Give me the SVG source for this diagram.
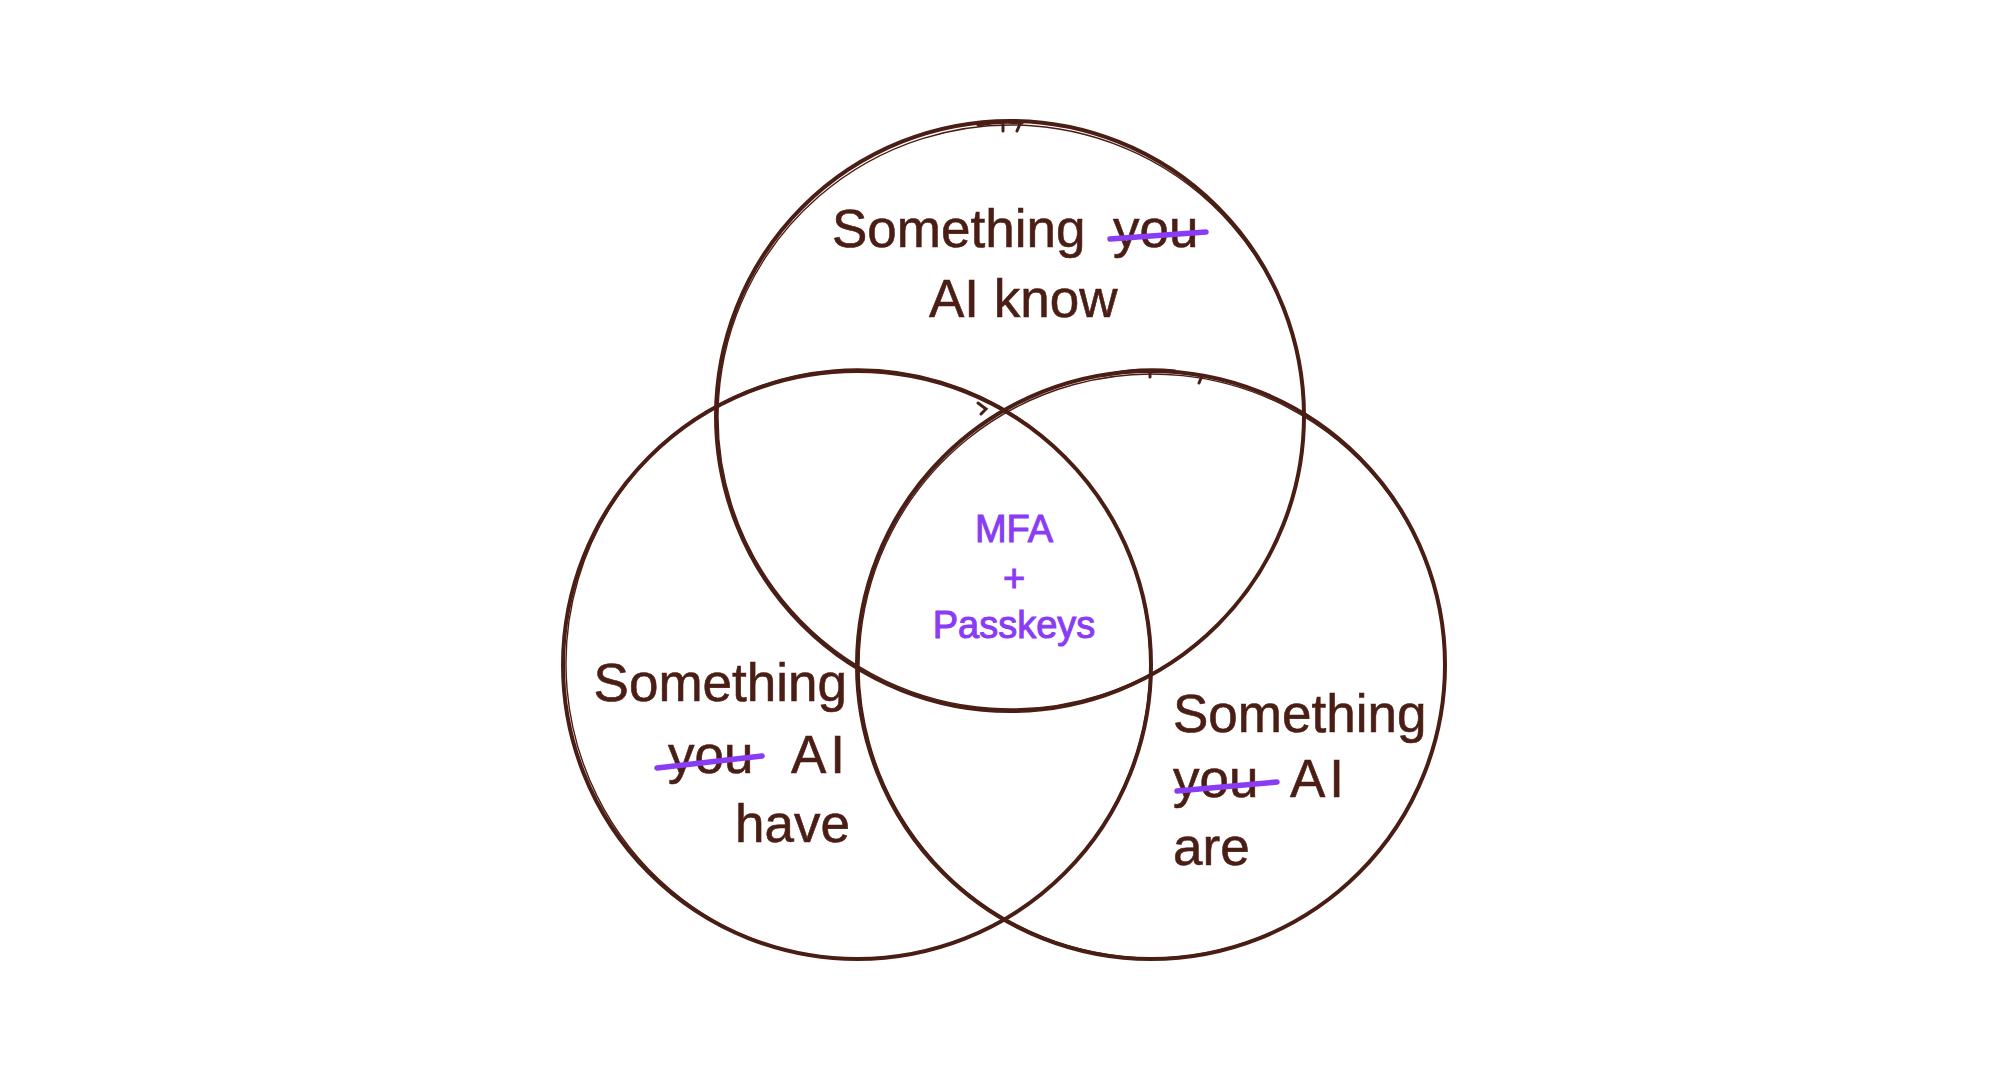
<svg xmlns="http://www.w3.org/2000/svg" width="2008" height="1081" viewBox="0 0 2008 1081">
  <style>
    .ring { fill: none; stroke: #4a1e14; stroke-width: 4; stroke-linecap: round; }
    .ring2 { fill: none; stroke: #4a1e14; stroke-width: 1.4; stroke-linecap: round; }
    .tick { fill: none; stroke: #4a1e14; stroke-width: 3; stroke-linecap: round; }
    .lbl { font-family: "Liberation Sans", Arial, sans-serif; font-size: 53px; fill: #4a1e14; stroke: #4a1e14; stroke-width: 0.6; }
    .core { font-family: "Liberation Sans", Arial, sans-serif; font-size: 38px; fill: #8a3cf5; stroke: #8a3cf5; stroke-width: 1; text-anchor: middle; }
    .strike { stroke: #8a3cf5; stroke-width: 5.5; stroke-linecap: round; fill: none; }
  </style>
  <rect width="2008" height="1081" fill="#ffffff"/>

  <g id="connectors"></g>

  <!-- Something you know (top) -->
  <g id="node-know">
    <ellipse class="ring" cx="1010" cy="416" rx="294" ry="295"/>
    <ellipse class="ring2" cx="1011" cy="417" rx="293" ry="292" transform="rotate(4 1011 417)"/>
    <path class="tick" d="M978 125 Q1000 121 1022 123 M1003 123 L1003 131 M1020 124 L1017 131"/>
    <text class="lbl" x="832" y="247">Something</text>
    <text class="lbl" x="1113" y="247">you</text>
    <line class="strike" x1="1110" y1="239" x2="1206" y2="232"/>
    <text class="lbl" x="929" y="317">AI know</text>
  </g>

  <!-- Something you have (left) -->
  <g id="node-have">
    <ellipse class="ring" cx="857" cy="665" rx="294" ry="294"/>
    <ellipse class="ring2" cx="858" cy="664" rx="292" ry="295" transform="rotate(-5 858 664)"/>
    <path class="tick" d="M978 403 L986 409 L981 414"/>
    <text class="lbl" x="847" y="701" text-anchor="end">Something</text>
    <text class="lbl" x="668" y="773">you</text>
    <line class="strike" x1="657" y1="768" x2="762" y2="756"/>
    <text class="lbl" x="849" y="773" text-anchor="end" letter-spacing="4">AI</text>
    <text class="lbl" x="850" y="842" text-anchor="end">have</text>
  </g>

  <!-- Something you are (right) -->
  <g id="node-are">
    <ellipse class="ring" cx="1151" cy="665" rx="294" ry="294"/>
    <ellipse class="ring2" cx="1152" cy="666" rx="293" ry="292" transform="rotate(6 1152 666)"/>
    <path class="tick" d="M1105 375 Q1140 367 1175 371 M1150 370 L1150 377 M1202 376 L1199 383"/>
    <text class="lbl" x="1173" y="732">Something</text>
    <text class="lbl" x="1173" y="797">you</text>
    <line class="strike" x1="1177" y1="791" x2="1277" y2="782"/>
    <text class="lbl" x="1290" y="797" letter-spacing="4">AI</text>
    <text class="lbl" x="1173" y="865">are</text>
  </g>

  <!-- Shared centre -->
  <g id="node-mfa">
    <text class="core" x="1014" y="542">MFA</text>
    <text class="core" x="1014" y="591">+</text>
    <text class="core" x="1014" y="638">Passkeys</text>
  </g>
</svg>
